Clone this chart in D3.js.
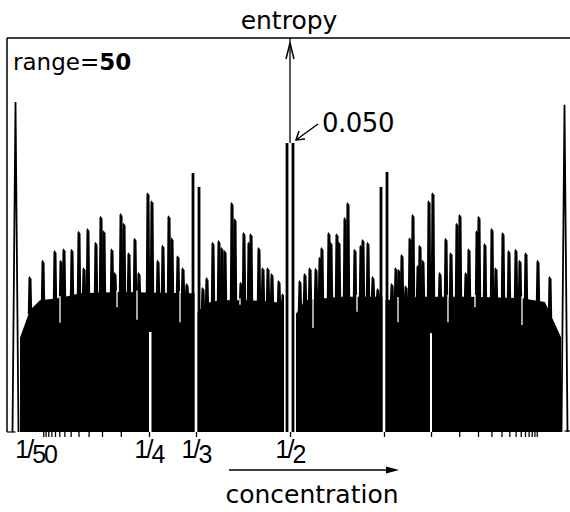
<!DOCTYPE html>
<html>
<head>
<meta charset="utf-8">
<script src="https://cdn.jsdelivr.net/npm/d3@7"></script>
<style>
body { margin: 0; background: #fff; }
svg { display: block; }
.txt { font-family: "DejaVu Sans", sans-serif; fill: #000; }
.frac { font-family: "Liberation Sans", Arial, sans-serif; fill: #000; }
</style>
</head>
<body>
<svg id="chart" width="570" height="512"></svg>
<script>

// peaks left of 1/2 (concentration, entropy)
var leftPeakC = [0.0390,0.0621,0.0833,0.0940,0.0993,0.1135,0.1259,0.1348,0.1418,0.1560,0.1649,0.1702,0.1844,0.1897,0.2004,0.2057,0.2145,0.2252,0.2323,0.2482,0.2553,0.2660,0.2748,0.2855,0.2908,0.3014,0.3103,0.3174,0.3457,0.3528,0.3635,0.3741,0.3794,0.3848,0.3972,0.4025,0.4131,0.4184,0.4273,0.4309,0.4450,0.4521,0.4610,0.4681,0.4805,0.4876];
var leftPeakS = [0.0270,0.0298,0.0315,0.0298,0.0318,0.0317,0.0348,0.0285,0.0353,0.0329,0.0374,0.0349,0.0318,0.0277,0.0379,0.0362,0.0311,0.0336,0.0277,0.0415,0.0401,0.0298,0.0324,0.0375,0.0337,0.0306,0.0285,0.0258,0.0251,0.0268,0.0329,0.0332,0.0320,0.0315,0.0398,0.0370,0.0260,0.0346,0.0329,0.0344,0.0320,0.0285,0.0285,0.0275,0.0263,0.0240];

// peaks right of 1/2
var rightPeakC = [0.5177,0.5266,0.5355,0.5461,0.5532,0.5567,0.5691,0.5727,0.5833,0.5869,0.5975,0.6028,0.6152,0.6259,0.6294,0.6383,0.6472,0.6560,0.6809,0.6879,0.6933,0.6986,0.7057,0.7128,0.7181,0.7270,0.7305,0.7358,0.7465,0.7535,0.7660,0.7766,0.7855,0.7961,0.8014,0.8121,0.8174,0.8316,0.8351,0.8457,0.8582,0.8652,0.8777,0.8883,0.9007,0.9078,0.9184,0.9397,0.9610];
var rightPeakS = [0.0263,0.0275,0.0285,0.0284,0.0303,0.0320,0.0346,0.0329,0.0344,0.0330,0.0372,0.0398,0.0317,0.0324,0.0334,0.0329,0.0270,0.0249,0.0258,0.0285,0.0282,0.0308,0.0254,0.0337,0.0377,0.0289,0.0324,0.0298,0.0401,0.0415,0.0277,0.0336,0.0311,0.0362,0.0377,0.0277,0.0318,0.0349,0.0374,0.0327,0.0353,0.0285,0.0346,0.0315,0.0317,0.0298,0.0311,0.0298,0.0270];

// split peaks at 1/3, 1/2, 2/3 (both sides of the gap)
var splitC = [0.3280,0.3387,0.4947,0.5053,0.6613,0.6720];
var splitS = [0.0448,0.0424,0.0500,0.0500,0.0424,0.0450];

// end peaks (range = 50)
var endC = [0.0133,0.9867];
var endS = [0.0571,0.0566];

// top of the dense background between the peaks
var envC = [0.0213,0.0390,0.0567,0.0922,0.1277,0.1986,0.3227,0.3316,0.3351,0.3511,0.3759,0.4291,0.4734,0.4911,0.5089,0.5266,0.5887,0.6649,0.6684,0.7305,0.8191,0.9078,0.9521,0.9805];
var envS = [0.0163,0.0211,0.0228,0.0232,0.0240,0.0242,0.0240,0.0240,0.0206,0.0223,0.0228,0.0228,0.0225,0.0220,0.0202,0.0228,0.0234,0.0234,0.0228,0.0234,0.0234,0.0232,0.0225,0.0164];

// deep valleys (white slits)
var valleyC = [0.0922,0.1933,0.2287,0.3050,0.4113,0.5408,0.6188,0.6915,0.7801,0.8280,0.9113];
var valleyS = [0.0189,0.0216,0.0194,0.0190,0.0220,0.0180,0.0208,0.0190,0.0190,0.0216,0.0185];

// gaps at simple fractions
var gapLo  = [0.2500,0.3307,0.4894,0.6640,0.7482];
var gapHi  = [0.2544,0.3360,0.5106,0.6693,0.7518];
var gapTop = [0.0173,0.0682,0.0682,0.0682,0.0171];

// axis
var tickC = [1/16,1/15,1/14,1/13,1/12,1/11,1/10,1/9,1/8,1/7,1/6,1/5,1/4,1/3,1/2,2/3,3/4,4/5,5/6,6/7,7/8,8/9,9/10,10/11,11/12,12/13,13/14,14/15,15/16];
var labelC = [1/50,1/4,1/3,1/2];
var labelDen = ["50","4","3","2"];
var peakLabel = "0.050";

var ink = "#000";
var svg = d3.select("#chart");

var x = d3.scaleLinear().domain([0,1]).range([8,572]);
var y = d3.scaleLinear().domain([0,0.05]).range([432,143]);
var env = d3.scaleLinear().domain(envC).range(envS);

// background fill
var area = d3.area().x(function(d){ return x(d[0]); }).y0(y(0)).y1(function(d){ return y(d[1]); });
svg.append("path").datum(d3.zip(envC, envS)).attr("d", area).attr("fill", ink);

// peaks: narrow bars with a slanted cap
function spike(d) {
	var cx = x(d[0]), yb = y(env(d[0])) + 4, yt = y(d[1]);
	return "M"+(cx-2.2)+","+yb+"L"+(cx-1.5)+","+(yt+2)+"L"+(cx-0.6)+","+yt+"L"+(cx+1.5)+","+(yt+3)+"L"+(cx+2.2)+","+yb+"Z";
}
svg.append("g").selectAll("path")
	.data(d3.zip(leftPeakC, leftPeakS).concat(d3.zip(rightPeakC, rightPeakS)))
	.join("path").attr("d", spike).attr("fill", ink);

// valleys
svg.append("g").selectAll("line")
	.data(d3.zip(valleyC, valleyS))
	.join("line")
	.attr("x1", function(d){ return x(d[0]); }).attr("x2", function(d){ return x(d[0]); })
	.attr("y1", function(d){ return y(env(d[0])) - 2; }).attr("y2", function(d){ return y(d[1]); })
	.attr("stroke", "#fff").attr("stroke-width", 1.3);

// gaps
svg.append("g").selectAll("rect")
	.data(d3.range(gapLo.length))
	.join("rect")
	.attr("x", function(i){ return x(gapLo[i]); })
	.attr("width", function(i){ return x(gapHi[i]) - x(gapLo[i]); })
	.attr("y", function(i){ return y(gapTop[i]); })
	.attr("height", function(i){ return y(0) - y(gapTop[i]); })
	.attr("fill", "#fff");

// split peaks
svg.append("g").selectAll("rect")
	.data(d3.zip(splitC, splitS))
	.join("rect")
	.attr("x", function(d){ return x(d[0]) - 1.4; })
	.attr("width", 2.8)
	.attr("y", function(d){ return y(d[1]); })
	.attr("height", function(d){ return y(0) - y(d[1]); })
	.attr("fill", ink);

// end peaks
svg.append("g").selectAll("path")
	.data(d3.zip(endC, endS))
	.join("path")
	.attr("d", function(d){ var cx = x(d[0]); return "M"+(cx-3)+","+y(0)+"L"+cx+","+y(d[1])+"L"+(cx+3)+","+y(0); })
	.attr("fill", "none").attr("stroke", ink).attr("stroke-width", 1.8);

// frame
var yTop = 38;
svg.append("line").attr("x1", 7).attr("x2", 570).attr("y1", yTop).attr("y2", yTop).attr("stroke", ink).attr("stroke-width", 1.5);
svg.append("line").attr("x1", 7).attr("x2", 7).attr("y1", yTop).attr("y2", y(0)).attr("stroke", ink).attr("stroke-width", 1.5);
svg.append("line").attr("x1", 7).attr("x2", x(endC[0])).attr("y1", y(0)).attr("y2", y(0)).attr("stroke", ink).attr("stroke-width", 1.2);
svg.append("line").attr("x1", x(endC[1])).attr("x2", 570).attr("y1", y(0)-1).attr("y2", y(0)-1).attr("stroke", ink).attr("stroke-width", 1.2);

// ticks
var axis = svg.append("g").attr("transform", "translate(0," + y(0) + ")")
	.call(d3.axisBottom(x).tickValues(tickC).tickSize(5).tickFormat(""));
axis.select(".domain").remove();
axis.selectAll(".tick line").attr("stroke", ink).attr("stroke-width", 1.3);

// tick labels
var lab = svg.append("g").selectAll("text")
	.data(d3.range(labelC.length))
	.join("text")
	.attr("class", "frac")
	.attr("x", function(i){ return i == 0 ? x(labelC[i]) - 4 : x(labelC[i]); })
	.attr("y", 458)
	.attr("text-anchor", function(i){ return i == 0 ? "start" : "middle"; })
	.attr("font-size", 25)
	.attr("letter-spacing", -2);
lab.append("tspan").text("1/");
lab.append("tspan").attr("dy", 5).text(function(i){ return labelDen[i]; });

// concentration arrow
svg.append("line").attr("x1", 229).attr("x2", 392).attr("y1", 470).attr("y2", 470).attr("stroke", ink).attr("stroke-width", 1.3);
svg.append("path").attr("d", "M386,466.5L399,470L386,473.5Z").attr("fill", ink);
svg.append("text").attr("class", "txt").attr("x", 312).attr("y", 503).attr("text-anchor", "middle").attr("font-size", 25).text("concentration");

// entropy axis arrow
var xc = x(0.5);
svg.append("line").attr("x1", xc).attr("x2", xc).attr("y1", yTop).attr("y2", y(0.05)).attr("stroke", ink).attr("stroke-width", 1.3);
svg.append("path").attr("d", "M"+(xc-4)+",59L"+xc+",43L"+(xc+4)+",59").attr("fill", "none").attr("stroke", ink).attr("stroke-width", 1.5);
svg.append("text").attr("class", "txt").attr("x", xc - 1).attr("y", 29).attr("text-anchor", "middle").attr("font-size", 25).text("entropy");

// pointer to the 1/2 peak
var px = xc + 6, py = y(0.05) - 3;
svg.append("line").attr("x1", px).attr("y1", py).attr("x2", px + 22).attr("y2", py - 16).attr("stroke", ink).attr("stroke-width", 1.5);
svg.append("path").attr("d", "M"+(px+3)+","+(py-9)+"L"+px+","+py+"L"+(px+9)+","+(py-1)).attr("fill", "none").attr("stroke", ink).attr("stroke-width", 1.5);
svg.append("text").attr("class", "txt").attr("x", 322).attr("y", 132).attr("font-size", 26).attr("letter-spacing", -0.5).text(peakLabel);

// range label
var rt = svg.append("text").attr("class", "txt").attr("x", 13).attr("y", 70).attr("font-size", 23);
rt.append("tspan").text("range=");
rt.append("tspan").attr("font-weight", "bold").text("50");

</script>
</body>
</html>
